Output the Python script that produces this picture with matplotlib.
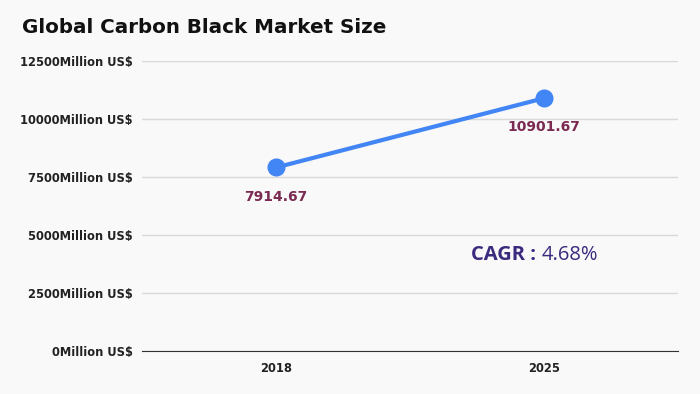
import matplotlib.pyplot as plt

# data
years = ["2018", "2025"]
market_size = [7914.67, 10901.67]
y_ticks = [0, 2500, 5000, 7500, 10000, 12500]
y_tick_labels = ["%dMillion US$" % v for v in y_ticks]
cagr = "4.68%"

bg = "#f9f9f9"
fig = plt.figure(figsize=(7, 3.94), dpi=100, facecolor=bg)
ax = fig.add_axes([0.203, 0.109, 0.766, 0.736], facecolor=bg)

x = list(range(len(years)))
ax.plot(x, market_size, color="#4285f4", lw=3, marker="o", ms=12, zorder=3)

for xi, v in zip(x, market_size):
    ax.annotate("%.2f" % v, (xi, v), xytext=(0, -16), textcoords="offset points",
                ha="center", va="top", fontsize=10, fontweight="bold", color="#7b2a52")

ax.set_xlim(-0.5, 1.5)
ax.set_ylim(0, 12500)
ax.set_yticks(y_ticks)
ax.set_yticklabels(y_tick_labels, fontsize=8.3, fontweight="bold", color="#222222")
ax.set_xticks(x)
ax.set_xticklabels(years, fontsize=8.3, fontweight="bold", color="#222222")
ax.tick_params(axis="y", length=0, pad=7)
ax.tick_params(axis="x", length=0, pad=8)
ax.grid(axis="y", color="#d9d9d9", lw=1)
ax.set_axisbelow(True)
for s in ["top", "right", "left"]:
    ax.spines[s].set_visible(False)
ax.spines["bottom"].set_color("#333333")

fig.text(0.031, 0.93, "Global Carbon Black Market Size", fontsize=14.3,
         fontweight="bold", color="#111111", va="center", ha="left")

# CAGR note, bold label followed by regular value
t1 = ax.text(0.614, 0.33, "CAGR : ", transform=ax.transAxes, fontsize=14.5,
             family="Open Sans", fontweight="bold", color="#3b2a7e",
             ha="left", va="center")
ax.annotate(cagr, xy=(1, 0.5), xycoords=t1, fontsize=14.5, family="Open Sans",
            color="#3b2a7e", ha="left", va="center")

fig.savefig("out.png", dpi=100, facecolor=bg)
